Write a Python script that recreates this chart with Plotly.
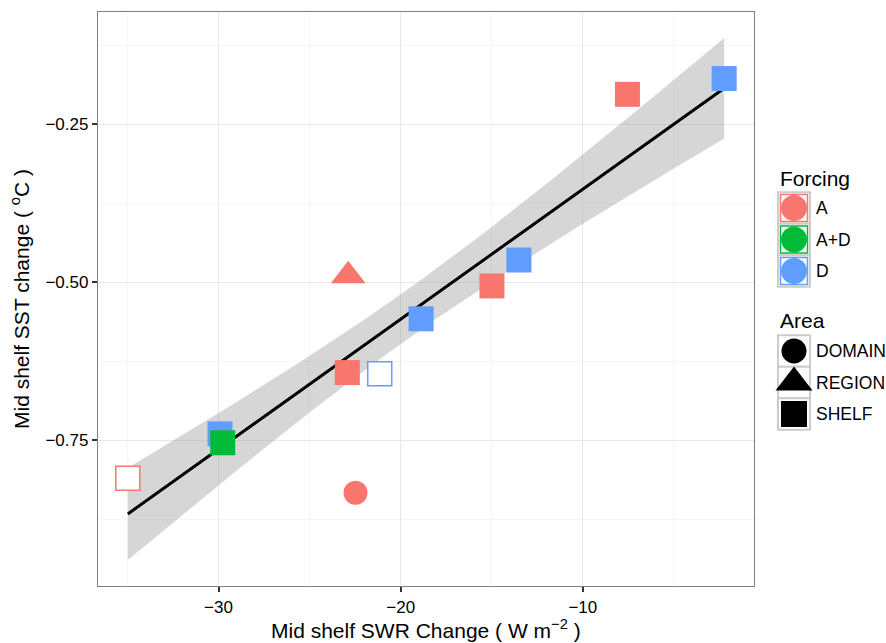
import numpy as np
import plotly.graph_objects as go

# ---------------- data ----------------
swr = [-34.98, -29.92, -29.77, -22.48, -22.88, -22.93, -21.15, -18.88, -14.99, -13.51, -7.55, -2.24]
sst = [-0.810, -0.740, -0.754, -0.833, -0.490, -0.643, -0.645, -0.558, -0.506, -0.465, -0.203, -0.178]
forcing = ["A", "D", "A+D", "A", "A", "A", "D", "D", "A", "D", "A", "D"]
area = ["SHELF", "SHELF", "SHELF", "DOMAIN", "REGION", "SHELF", "SHELF", "SHELF", "SHELF", "SHELF", "SHELF", "SHELF"]
hollow = [True, False, False, False, False, False, True, False, False, False, False, False]

forcing_levels = ["A", "A+D", "D"]
area_levels = ["DOMAIN", "REGION", "SHELF"]
x_ticks = [-30, -20, -10]
y_ticks = [-0.75, -0.50, -0.25]
y_tick_labels = ["\u22120.75", "\u22120.50", "\u22120.25"]

# ---------------- styles ----------------
forcing_colors = {"A": "#F8766D", "A+D": "#00BA38", "D": "#619CFF"}
area_symbols = {"DOMAIN": "circle", "REGION": "triangle-up", "SHELF": "square"}
area_sizes = {"DOMAIN": 24, "REGION": 30, "SHELF": 25}
FONT = "Liberation Sans, Arial, sans-serif"
T_CRIT = 2.306004  # 97.5% t quantile, df = 8 (10 SHELF points - 2)

W, H = 886, 643
ML, MR, MT, MB = 98, 0, 12, 57
PW = W - ML - MR
PANEL_RIGHT = 754
LEG_LEFT = 762

# ---------------- linear fit on SHELF points ----------------
xs = np.array([x for x, a in zip(swr, area) if a == "SHELF"])
ys = np.array([y for y, a in zip(sst, area) if a == "SHELF"])
n = len(xs)
slope, intercept = np.polyfit(xs, ys, 1)
resid = ys - (slope * xs + intercept)
s = np.sqrt(np.sum(resid ** 2) / (n - 2))
sxx = np.sum((xs - xs.mean()) ** 2)
xg = np.linspace(xs.min(), xs.max(), 80)
yg = slope * xg + intercept
se = s * np.sqrt(1.0 / n + (xg - xs.mean()) ** 2 / sxx)
lo = yg - T_CRIT * se
hi = yg + T_CRIT * se

# ranges with ggplot-like 5% expansion
xmin, xmax = min(swr), max(swr)
xr = [xmin - 0.05 * (xmax - xmin), xmax + 0.05 * (xmax - xmin)]
ymin = min(min(sst), lo.min())
ymax = max(max(sst), hi.max())
yr = [ymin - 0.05 * (ymax - ymin), ymax + 0.05 * (ymax - ymin)]

fig = go.Figure()

# confidence band
fig.add_trace(go.Scatter(x=xg, y=lo, mode="lines", line=dict(width=0), hoverinfo="skip", showlegend=False))
fig.add_trace(go.Scatter(x=xg, y=hi, mode="lines", line=dict(width=0), fill="tonexty",
                         fillcolor="rgba(153,153,153,0.4)", hoverinfo="skip", showlegend=False))
# fit line
fig.add_trace(go.Scatter(x=xg, y=yg, mode="lines", line=dict(color="black", width=3), showlegend=False))

# points
colors = [forcing_colors[f] for f in forcing]
fig.add_trace(go.Scatter(
    x=swr, y=sst, mode="markers", showlegend=False,
    marker=dict(
        opacity=1,
        symbol=[area_symbols[a] for a in area],
        size=[area_sizes[a] - (1 if h else 0) for a, h in zip(area, hollow)],
        color=["white" if h else c for h, c in zip(hollow, colors)],
        line=dict(color=colors, width=[1.5 if h else 0 for h in hollow]),
    ),
))

# ---------------- manual legend on a pixel-scaled helper axis ----------------
shapes = []
annotations = []
KEY_X = 794
LAB_X = 814
f_y0, a_y0, step = 208, 351, 31.5
TITLE_SIZE, LABEL_SIZE = 21, 17.5

annotations.append(dict(x=LEG_LEFT + 16, y=178, xref="x2", yref="y2", text="Forcing", showarrow=False,
                        xanchor="left", yanchor="middle", font=dict(family=FONT, size=TITLE_SIZE, color="black")))
for i, f in enumerate(forcing_levels):
    cy = f_y0 + i * step
    shapes.append(dict(type="rect", xref="x2", yref="y2", x0=KEY_X - 16, x1=KEY_X + 16,
                       y0=cy - step / 2, y1=cy + step / 2, line=dict(color="#CCCCCC", width=2),
                       fillcolor="white", layer="below"))
    fig.add_trace(go.Scatter(x=[KEY_X], y=[cy], xaxis="x2", yaxis="y2", mode="markers", showlegend=False,
                             marker=dict(symbol="square", size=27, color="white", opacity=1,
                                         line=dict(color=forcing_colors[f], width=1.5))))
    fig.add_trace(go.Scatter(x=[KEY_X], y=[cy], xaxis="x2", yaxis="y2", mode="markers", showlegend=False,
                             marker=dict(symbol="circle", size=26, color=forcing_colors[f], opacity=1)))
    annotations.append(dict(x=LAB_X, y=cy, xref="x2", yref="y2", text=f, showarrow=False,
                            xanchor="left", yanchor="middle", font=dict(family=FONT, size=LABEL_SIZE, color="black")))

annotations.append(dict(x=LEG_LEFT + 16, y=320, xref="x2", yref="y2", text="Area", showarrow=False,
                        xanchor="left", yanchor="middle", font=dict(family=FONT, size=TITLE_SIZE, color="black")))
for i, a in enumerate(area_levels):
    cy = a_y0 + i * step
    shapes.append(dict(type="rect", xref="x2", yref="y2", x0=KEY_X - 16, x1=KEY_X + 16,
                       y0=cy - step / 2, y1=cy + step / 2, line=dict(color="#CCCCCC", width=2),
                       fillcolor="white", layer="below"))
    fig.add_trace(go.Scatter(x=[KEY_X], y=[cy], xaxis="x2", yaxis="y2", mode="markers", showlegend=False,
                             marker=dict(symbol=area_symbols[a], size=area_sizes[a] + (2 if a == "REGION" else 1),
                                         color="black", opacity=1)))
    annotations.append(dict(x=LAB_X, y=cy, xref="x2", yref="y2", text=a, showarrow=False,
                            xanchor="left", yanchor="middle", font=dict(family=FONT, size=LABEL_SIZE, color="black")))

# axis titles
annotations.append(dict(x=0.5 * (PANEL_RIGHT - ML) / PW, y=0, xref="paper", yref="paper", yshift=-43,
                        text="Mid shelf SWR Change ( W m<sup>\u22122</sup> )", showarrow=False,
                        xanchor="center", yanchor="middle", font=dict(family=FONT, size=21, color="black")))
annotations.append(dict(x=0, y=0.5, xref="paper", yref="paper", xshift=-78,
                        text="Mid shelf SST change ( <sup>o</sup>C )", showarrow=False,
                        textangle=-90, xanchor="center", yanchor="middle",
                        font=dict(family=FONT, size=21, color="black")))

axis_common = dict(showline=True, mirror=True, linecolor="#7F7F7F", linewidth=1.3,
                   ticks="outside", ticklen=5, tickwidth=1.5, tickcolor="#333333",
                   showgrid=True, gridcolor="#E8E8E8", gridwidth=1, zeroline=False,
                   tickfont=dict(family=FONT, size=17, color="black"))

fig.update_layout(
    width=W, height=H,
    margin=dict(l=ML, r=MR, t=MT, b=MB, pad=0),
    paper_bgcolor="white", plot_bgcolor="white",
    showlegend=False,
    xaxis=dict(domain=[0, (PANEL_RIGHT - ML) / PW], range=xr, tickvals=x_ticks,
               ticktext=["\u2212" + str(abs(v)) for v in x_ticks],
               minor=dict(tickvals=[-35, -25, -15, -5], showgrid=True, gridcolor="#F6F6F6", gridwidth=1, ticks=""),
               **axis_common),
    yaxis=dict(range=yr, tickvals=y_ticks, ticktext=y_tick_labels,
               minor=dict(tickvals=[-0.875, -0.625, -0.375, -0.125], showgrid=True, gridcolor="#F6F6F6",
                          gridwidth=1, ticks=""),
               **axis_common),
    xaxis2=dict(domain=[(LEG_LEFT - ML) / PW, 1], range=[LEG_LEFT, W], visible=False, anchor="y2"),
    yaxis2=dict(domain=[0, 1], range=[H - MB, MT], visible=False, anchor="x2"),
    shapes=shapes,
    annotations=annotations,
)

fig.write_html("out.html")
